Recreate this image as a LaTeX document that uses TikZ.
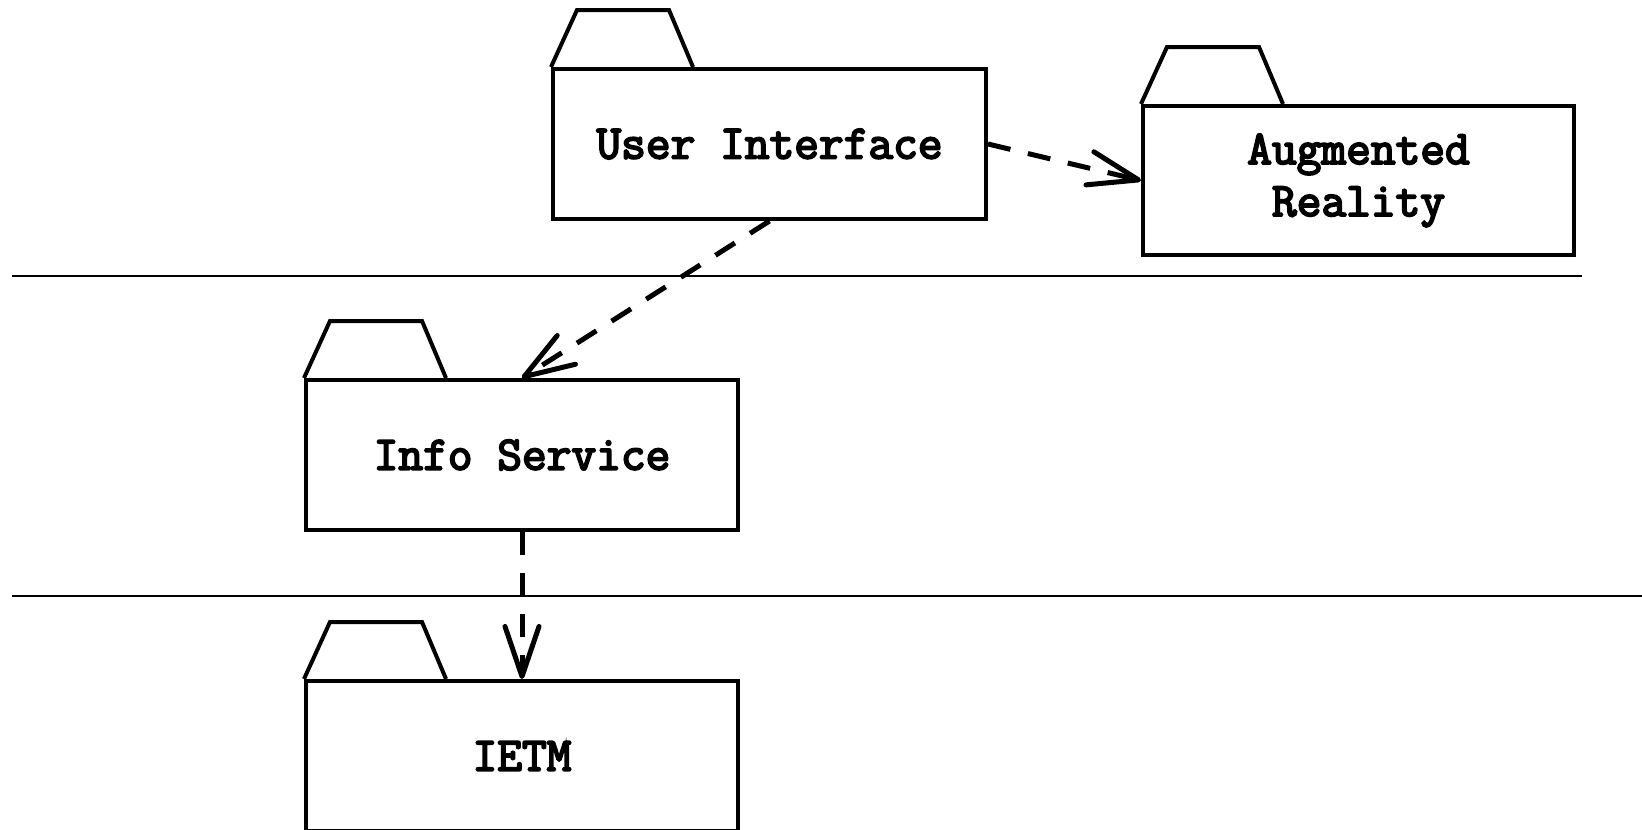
\documentclass[tikz,border=0pt]{standalone}
\usepackage{fontspec}
\newfontfamily\courb[FakeBold=4]{Latin Modern Mono}
\usetikzlibrary{arrows.meta,calc}
\tikzset{
  pkg/.style={draw, line width=4pt, rectangle, inner sep=0pt, align=center,
    font=\courb\fontsize{48}{52}\selectfont},
  tabline/.style={line width=4pt, line join=miter},
  dep/.style={line width=5pt, dash pattern=on 23pt off 18pt,
    -{Straight Barb[length=50pt,width=34pt,round]}},
  sep/.style={line width=2.5pt}
}
\newcommand{\pkgtab}[1]{%
  \draw[tabline] (#1.north west) -- ++(26,-57) -- ++(92,0) -- ($(#1.north west)+(142,0)$);}
\begin{document}
\begin{tikzpicture}[x=1pt,y=-1pt]
\useasboundingbox (0,0) rectangle (1642,830);
% separators
\coordinate (s1a) at (12,276);
\coordinate (s1b) at (1582,276);
\coordinate (s2a) at (12,596);
\coordinate (s2b) at (1642,596);
\draw[sep] (s1a) -- (s1b);
\draw[sep] (s2a) -- (s2b);
% packages
\node[pkg, minimum width=433pt, minimum height=150pt] (ui) at (769.5,144) {User Interface};
\node[pkg, minimum width=431pt, minimum height=149pt] (ar) at (1358.5,180.5) {Augmented\\Reality};
\node[pkg, minimum width=432pt, minimum height=150pt] (is) at (522,455) {Info Service};
\node[pkg, minimum width=432pt, minimum height=150pt] (ie) at (522,756) {IETM};
\pkgtab{ui}
\pkgtab{ar}
\pkgtab{is}
\pkgtab{ie}
% dependencies
\draw[dep] (ui.east) -- (ar.west);
\draw[dep] (ui.south) -- (is.north);
\draw[dep] (is.south) -- (ie.north);
\end{tikzpicture}
\end{document}
